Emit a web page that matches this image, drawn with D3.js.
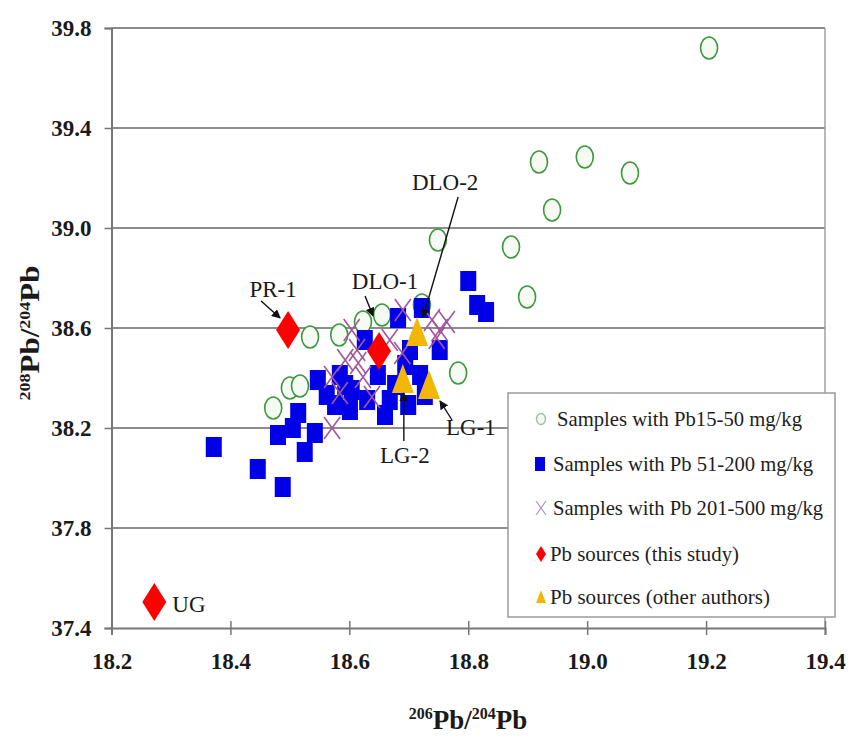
<!DOCTYPE html>
<html><head><meta charset="utf-8">
<script src="https://cdn.jsdelivr.net/npm/d3@7"></script>
<style>body{margin:0;background:#fff}svg{display:block}</style>
</head><body>
<svg id="c" width="849" height="746"></svg>
<script>
// ---------- data ----------
const xTicks = [18.2, 18.4, 18.6, 18.8, 19.0, 19.2, 19.4];
const yTicks = [37.4, 37.8, 38.2, 38.6, 39.0, 39.4, 39.8];

// Samples with Pb 15-50 mg/kg  [206Pb/204Pb, 208Pb/204Pb]
const lowPb = [
  [19.205,39.72],[18.919,39.264],[18.996,39.284],[19.072,39.22],[18.941,39.072],
  [18.872,38.924],[18.749,38.952],[18.899,38.724],[18.783,38.42],[18.534,38.564],
  [18.583,38.572],[18.655,38.652],[18.623,38.624],[18.722,38.692],[18.472,38.28],
  [18.50,38.36],[18.517,38.368]
];
// Samples with Pb 51-200 mg/kg
const midPb = [
  [18.372,38.124],[18.446,38.036],[18.488,37.964],[18.48,38.172],[18.505,38.20],
  [18.514,38.26],[18.525,38.104],[18.542,38.18],[18.547,38.392],[18.562,38.332],
  [18.584,38.412],[18.604,38.352],[18.601,38.272],[18.66,38.252],[18.648,38.412],
  [18.677,38.372],[18.682,38.64],[18.699,38.292],[18.702,38.512],[18.722,38.68],
  [18.752,38.512],[18.719,38.412],[18.80,38.788],[18.815,38.692],[18.83,38.664],
  [18.63,38.312],[18.593,38.372],[18.576,38.292],[18.668,38.312],[18.626,38.552],
  [18.727,38.332],[18.694,38.452]
];
// Samples with Pb 201-500 mg/kg
const highPb = [
  [18.571,38.404],[18.584,38.34],[18.571,38.20],[18.613,38.512],[18.623,38.404],
  [18.638,38.324],[18.604,38.592],[18.615,38.46],[18.689,38.50],[18.69,38.672],
  [18.739,38.632],[18.752,38.592],[18.764,38.624],[18.747,38.56],[18.593,38.472],
  [18.668,38.552]
];
// Pb sources (this study)
const srcThis = [
  {name:"PR-1", x:18.497, y:38.592},
  {name:"DLO-1", x:18.650, y:38.508},
  {name:"UG", x:18.272, y:37.504}
];
// Pb sources (other authors)
const srcOther = [
  {name:"DLO-2", x:18.714, y:38.58},
  {name:"LG-2", x:18.69, y:38.392},
  {name:"LG-1", x:18.734, y:38.368}
];
const legendLabels = [
  "Samples with Pb15-50 mg/kg",
  "Samples with Pb 51-200 mg/kg",
  "Samples with Pb 201-500 mg/kg",
  "Pb sources (this study)",
  "Pb sources (other authors)"
];

// ---------- layout ----------
const svg = d3.select("#c");
const L = 111.5, R = 825, T = 28, B = 628;
const x = d3.scaleLinear().domain([18.2, 19.4]).range([L, R]);
const y = d3.scaleLinear().domain([37.4, 39.8]).range([B, T]);
const serif = "'Liberation Serif','Times New Roman',serif";
const gridCol = "#8c8c8c";

// grid lines
svg.append("g").selectAll("line").data(yTicks.filter(d => d > 37.4)).join("line")
  .attr("x1", L).attr("x2", R).attr("y1", d => y(d)).attr("y2", d => y(d))
  .attr("stroke", gridCol).attr("stroke-width", 2);
// right border
svg.append("line").attr("x1", R).attr("x2", R).attr("y1", T).attr("y2", B)
  .attr("stroke", "#a0a0a0").attr("stroke-width", 1.5);

// axes
const yAxis = svg.append("g").attr("transform", `translate(${L},0)`)
  .call(d3.axisLeft(y).tickValues(yTicks).tickFormat(d3.format(".1f")).tickSize(7).tickPadding(12));
const xAxis = svg.append("g").attr("transform", `translate(0,${B})`)
  .call(d3.axisBottom(x).tickValues(xTicks).tickFormat(d3.format(".1f")).tickSize(7).tickPadding(18));
[yAxis, xAxis].forEach(g => {
  g.select(".domain").attr("stroke", "#777").attr("stroke-width", 2);
  g.selectAll(".tick line").attr("stroke", "#777").attr("stroke-width", 1.5);
  g.selectAll(".tick text").attr("font-family", serif).attr("font-weight", "bold")
    .attr("font-size", 23).attr("fill", "#1a1a1a");
});
yAxis.selectAll(".tick text").attr("dx", -1);
// x ticks cross the axis
xAxis.selectAll(".tick line").attr("y1", -7);

// axis titles
const xt = svg.append("text").attr("transform", "translate(468,729)").attr("text-anchor", "middle")
  .attr("font-family", serif).attr("font-weight", "bold").attr("font-size", 27).attr("fill", "#1a1a1a");
xt.append("tspan").attr("font-size", 16).attr("dy", -10).text("206");
xt.append("tspan").attr("dy", 10).text("Pb/");
xt.append("tspan").attr("font-size", 16).attr("dy", -10).text("204");
xt.append("tspan").attr("dy", 10).text("Pb");

const yt = svg.append("text").attr("transform", "translate(39,333) rotate(-90) scale(1,0.85)").attr("text-anchor", "middle")
  .attr("font-family", serif).attr("font-weight", "bold").attr("font-size", 31).attr("fill", "#1a1a1a");
yt.append("tspan").attr("font-size", 18).attr("dy", -11).text("208");
yt.append("tspan").attr("dy", 11).text("Pb/");
yt.append("tspan").attr("font-size", 18).attr("dy", -11).text("204");
yt.append("tspan").attr("dy", 11).text("Pb");

// ---------- marks ----------
const green = "#3d983d", blue = "#0000e8", purple = "#a2569e", red = "#ff0000", gold = "#f2b705";
const plot = svg.append("g");

plot.append("g").selectAll("ellipse").data(lowPb).join("ellipse")
  .attr("cx", d => x(d[0])).attr("cy", d => y(d[1])).attr("rx", 8.5).attr("ry", 11)
  .attr("fill", "#f5fbf3").attr("stroke", green).attr("stroke-width", 1.6);

plot.append("g").selectAll("rect").data(midPb).join("rect")
  .attr("x", d => x(d[0]) - 8).attr("y", d => y(d[1]) - 10).attr("width", 16).attr("height", 20)
  .attr("fill", blue);

plot.append("g").selectAll("path").data(highPb).join("path")
  .attr("d", d => { const cx = x(d[0]), cy = y(d[1]);
    return `M${cx-8},${cy-11}L${cx+8},${cy+11}M${cx+8},${cy-11}L${cx-8},${cy+11}`; })
  .attr("stroke", purple).attr("stroke-width", 1.6).attr("fill", "none");

plot.append("g").selectAll("path").data(srcOther).join("path")
  .attr("d", d => { const cx = x(d.x), cy = y(d.y);
    return `M${cx},${cy-16}L${cx+11},${cy+13}L${cx-11},${cy+13}Z`; })
  .attr("fill", gold);

plot.append("g").selectAll("path").data(srcThis).join("path")
  .attr("d", d => { const cx = x(d.x), cy = y(d.y);
    return `M${cx},${cy-19}L${cx+12},${cy}L${cx},${cy+19}L${cx-12},${cy}Z`; })
  .attr("fill", red);

// ---------- annotations ----------
svg.append("defs").append("marker").attr("id", "ah").attr("viewBox", "0 0 10 10")
  .attr("refX", 9).attr("refY", 5).attr("markerWidth", 9).attr("markerHeight", 9)
  .attr("markerUnits", "userSpaceOnUse").attr("orient", "auto")
  .append("path").attr("d", "M0,0L10,5L0,10Z").attr("fill", "#111");

// label placement relative to the marker (pixels): text anchor point and arrow line
const annot = {
  "PR-1":  {tx: -15, ty: -33, anchor: "middle", a: [-27, -29, -8, -12]},
  "DLO-1": {tx: 6,   ty: -62, anchor: "middle", a: [-14, -55, -6, -35]},
  "UG":    {tx: 18,  ty: 10,  anchor: "start",  a: null},
  "DLO-2": {tx: 28,  ty: -143, anchor: "middle", a: [41, -136, 6, -16]},
  "LG-2":  {tx: 2,   ty: 83,  anchor: "middle", a: [1, 61, 1, 13]},
  "LG-1":  {tx: 17,  ty: 49,  anchor: "start",  a: [23, 34, 11, 15]}
};
const allSrc = srcThis.concat(srcOther);
allSrc.forEach(d => {
  const o = annot[d.name], cx = x(d.x), cy = y(d.y);
  if (o.a) svg.append("line").attr("x1", cx + o.a[0]).attr("y1", cy + o.a[1])
    .attr("x2", cx + o.a[2]).attr("y2", cy + o.a[3])
    .attr("stroke", "#111").attr("stroke-width", 1.4).attr("marker-end", "url(#ah)");
  svg.append("text").attr("x", cx + o.tx).attr("y", cy + o.ty).attr("text-anchor", o.anchor)
    .attr("font-family", serif).attr("font-size", 23).attr("fill", "#1a1a1a").text(d.name);
});

// ---------- legend ----------
const lg = svg.append("g");
lg.append("rect").attr("x", 508).attr("y", 393).attr("width", 327).attr("height", 224)
  .attr("fill", "#fff").attr("stroke", "#9a9a9a").attr("stroke-width", 1.5);
const rowY = [419, 464, 508, 554, 597];
const textX = [557, 553, 553, 550, 550];
const textW = [245, 260, 270, 189, 220];
legendLabels.forEach((t, i) => {
  lg.append("text").attr("x", textX[i]).attr("y", rowY[i] + 7)
    .attr("font-family", serif).attr("font-size", 22).attr("fill", "#1e1e1e")
    .attr("textLength", textW[i]).attr("lengthAdjust", "spacingAndGlyphs").text(t);
});
const mx = 541;
lg.append("ellipse").attr("cx", mx).attr("cy", rowY[0]).attr("rx", 4.5).attr("ry", 5.5)
  .attr("fill", "#f5f8f3").attr("stroke", "#a9bca9").attr("stroke-width", 1.5);
lg.append("rect").attr("x", mx - 6).attr("y", rowY[1] - 7).attr("width", 10).attr("height", 14).attr("fill", blue);
lg.append("path").attr("d", `M${mx-5},${rowY[2]-7}L${mx+5},${rowY[2]+7}M${mx+5},${rowY[2]-7}L${mx-5},${rowY[2]+7}`)
  .attr("stroke", "#a898c0").attr("stroke-width", 1.2);
lg.append("path").attr("d", `M${mx},${rowY[3]-8}L${mx+5},${rowY[3]}L${mx},${rowY[3]+8}L${mx-5},${rowY[3]}Z`).attr("fill", red);
lg.append("path").attr("d", `M${mx},${rowY[4]-7}L${mx+5},${rowY[4]+6}L${mx-5},${rowY[4]+6}Z`).attr("fill", gold);
</script>
</body></html>
